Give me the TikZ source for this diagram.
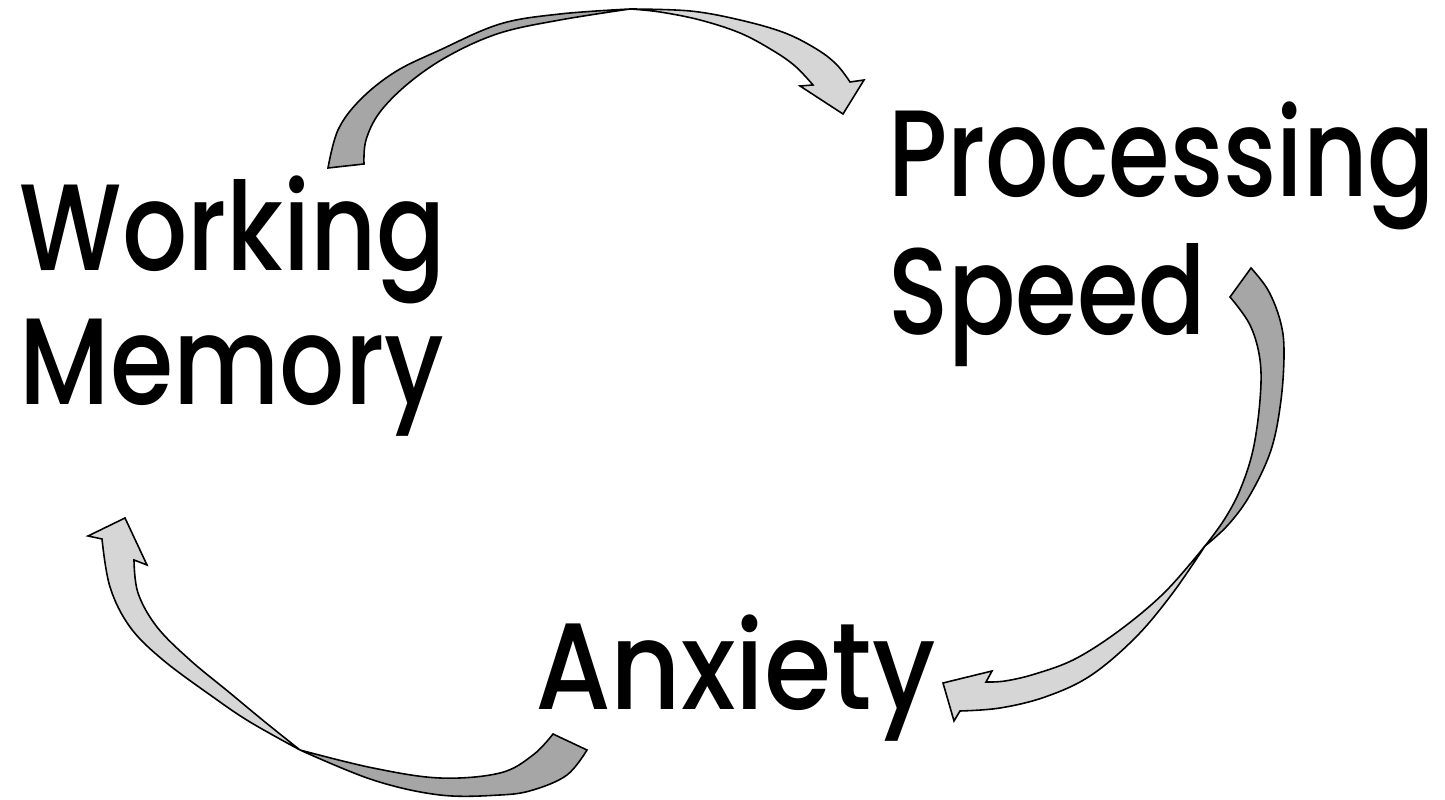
\documentclass[tikz,border=0pt]{standalone}
\usepackage{fontspec}
\setmainfont{Poppins}
\newfontfamily\wmfont{Poppins Medium}[FakeStretch=0.832]
\newfontfamily\psfont{Poppins Medium}[FakeStretch=0.81]
\newfontfamily\axfont{Poppins Medium}[FakeStretch=0.885]
\definecolor{ribdark}{RGB}{166,166,166}
\definecolor{riblight}{RGB}{214,214,214}
\tikzset{
  ribback/.style={draw=black, line width=0.45pt, fill=ribdark, line join=miter},
  ribfront/.style={draw=black, line width=0.45pt, fill=riblight, line join=miter},
  label/.style={inner sep=0pt, outer sep=0pt, align=left, anchor=base west}
}
\begin{document}
\begin{tikzpicture}[x=0.1mm, y=-0.1mm]
\useasboundingbox (0,0) rectangle (1445,800);
% labels (anchored at the baseline of the last line)
\node[label, font=\wmfont\fontsize{35}{38.4}\selectfont] (wm) at (20,405) {Working\\Memory};
\node[label, font=\psfont\fontsize{35}{39.5}\selectfont] (ps) at (888,335) {Processing\\Speed};
\node[label, font=\axfont\fontsize{35}{38.4}\selectfont] (ax) at (535,710) {Anxiety};
% top arrow: Working Memory -> Processing Speed
\path[ribback] plot[smooth, tension=0.6] coordinates {(328,168) (338,130) (360,100) (395,72) (440,50) (500,24) (560,14) (630,9)}
  -- plot[smooth, tension=0.6] coordinates {(630,9) (560,20) (500,33) (450,55) (410,82) (380,112) (366,140) (364,164)} -- cycle;
\path[ribfront] plot[smooth, tension=0.6] coordinates {(630,9) (690,11) (740,20) (785,33) (818,50) (837,65) (850,82)}
  -- (864,80) -- (843,114) -- (800,86) -- (813,85)
  -- plot[smooth, tension=0.6] coordinates {(813,85) (795,66) (772,50) (740,33) (700,20) (660,12) (630,9)} -- cycle;
% right arrow: Processing Speed -> Anxiety
\path[ribback] plot[smooth, tension=0.6] coordinates {(1251,268) (1268,290) (1280,320) (1284,350) (1281,400) (1271,450) (1250,495) (1228,525) (1205,546)}
  -- plot[smooth, tension=0.6] coordinates {(1205,546) (1224,520) (1240,490) (1253,450) (1260,400) (1260,360) (1250,325) (1230,297)} -- cycle;
\path[ribfront] plot[smooth, tension=0.6] coordinates {(1205,546) (1165,592) (1120,630) (1075,659) (1035,674) (1005,681) (986,682)}
  -- (992,671) -- (943,683) -- (954,721) -- (960,711)
  -- plot[smooth, tension=0.6] coordinates {(960,711) (1000,708) (1045,697) (1090,676) (1135,638) (1172,594) (1205,546)} -- cycle;
% bottom arrow: Anxiety -> Working Memory
\path[ribback] plot[smooth, tension=0.6] coordinates {(587,750) (567,775) (533,790) (500,795) (440,795) (373,780) (300,750)}
  -- plot[smooth, tension=0.6] coordinates {(300,750) (373,768) (440,778) (500,773) (533,755) (553,734)} -- cycle;
\path[ribfront] plot[smooth, tension=0.6] coordinates {(300,750) (250,722) (213,697) (163,660) (130,627) (110,587) (102,539)}
  -- (88,536) -- (125,518) -- (147,565) -- (134,560)
  -- plot[smooth, tension=0.6] coordinates {(134,560) (138,593) (157,627) (190,660) (230,693) (265,722) (300,750)} -- cycle;
\end{tikzpicture}
\end{document}
